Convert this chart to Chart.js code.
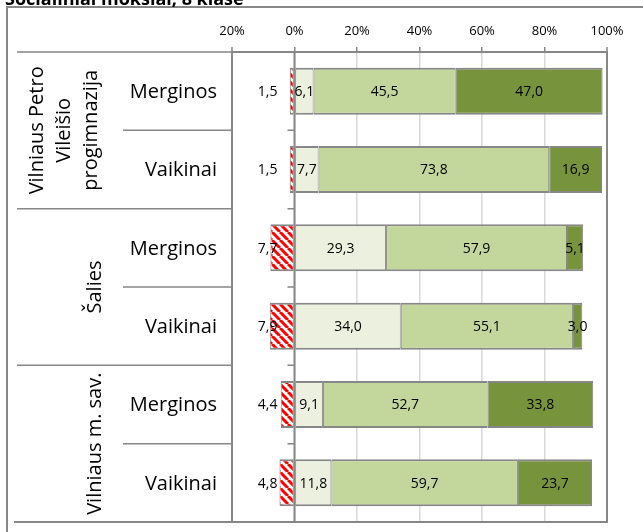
<!DOCTYPE html>
<html><head><meta charset="utf-8">
<script src="https://cdn.jsdelivr.net/npm/chart.js@4.4.1/dist/chart.umd.min.js"></script>
<style>html,body{margin:0;padding:0;background:#fff;overflow:hidden}#wrap{width:643px;height:532px;position:relative}</style>
</head><body><div id="wrap"><canvas id="c" width="643" height="532"></canvas></div>
<script>
// ---- data ----
const chartTitle = 'Socialiniai mokslai, 8 klasė';
const groupLabels = [['Vilniaus Petro', 'Vileišio', 'progimnazija'], ['Šalies'], ['Vilniaus m. sav.']];
const groupSizes = [2, 2, 2];
const categories = ['Merginos', 'Vaikinai', 'Merginos', 'Vaikinai', 'Merginos', 'Vaikinai'];
const seriesNames = ['Nepasiekė patenkinamo', 'Patenkinamas', 'Pagrindinis', 'Aukštesnysis'];
const belowLevel = [1.5, 1.5, 7.7, 7.9, 4.4, 4.8];
const basicLevel = [6.1, 7.7, 29.3, 34.0, 9.1, 11.8];
const mainLevel = [45.5, 73.8, 57.9, 55.1, 52.7, 59.7];
const highLevel = [47.0, 16.9, 5.1, 3.0, 33.8, 23.7];
const xTickValues = [-20, 0, 20, 40, 60, 80, 100];

// ---- styling ----
const FONT = '"Open Sans", "DejaVu Sans", sans-serif';
const GREY = '#878787';
const canvas = document.getElementById('c');
const mainCtx = canvas.getContext('2d');

function hatchPattern() {
  const c = document.createElement('canvas');
  c.width = 8; c.height = 8;
  const g = c.getContext('2d');
  g.fillStyle = '#ffffff'; g.fillRect(0, 0, 8, 8);
  g.strokeStyle = '#ff0000'; g.lineWidth = 3;
  g.beginPath();
  for (const o of [-8, 0, 8]) { g.moveTo(o, 0); g.lineTo(o + 8, 8); }
  g.stroke();
  return mainCtx.createPattern(c, 'repeat');
}

const fmt = v => Math.abs(v).toFixed(1).replace('.', ',');

const framePlugin = {
  id: 'frame',
  beforeDraw(chart) {
    const ctx = chart.ctx;
    ctx.save();
    ctx.fillStyle = '#fff'; ctx.fillRect(0, 0, chart.width, chart.height);
    ctx.strokeStyle = GREY; ctx.lineWidth = 2;
    ctx.beginPath();
    ctx.moveTo(7, 540); ctx.lineTo(7, 7); ctx.lineTo(660, 7);
    ctx.stroke();
    ctx.fillStyle = '#000';
    ctx.font = 'bold 18px ' + FONT;
    ctx.textAlign = 'left'; ctx.textBaseline = 'alphabetic';
    ctx.fillText(chartTitle, 5, 5);
    ctx.restore();
  },
  beforeDatasetsDraw(chart) {
    const ctx = chart.ctx, xs = chart.scales.x, ys = chart.scales.y, a = chart.chartArea;
    const x0 = xs.getPixelForValue(0);
    ctx.save();
    ctx.strokeStyle = GREY; ctx.lineWidth = 2;
    ctx.beginPath(); ctx.moveTo(x0, a.top); ctx.lineTo(x0, a.bottom); ctx.stroke();
    ctx.lineWidth = 1.5;
    ctx.beginPath();
    for (let i = 0; i < categories.length - 1; i++) {
      const yb = (ys.getPixelForValue(i) + ys.getPixelForValue(i + 1)) / 2;
      ctx.moveTo(x0 - 7, yb); ctx.lineTo(x0, yb);
    }
    ctx.stroke();
    ctx.restore();
  },
  afterDraw(chart) {
    const ctx = chart.ctx, ys = chart.scales.y, a = chart.chartArea;
    ctx.save();
    ctx.strokeStyle = GREY;
    ctx.lineWidth = 1.5;
    ctx.beginPath();
    ctx.moveTo(17, a.top); ctx.lineTo(a.left, a.top);
    let idx = 0;
    groupSizes.forEach((n) => {
      for (let k = 0; k < n - 1; k++) {
        const yb = (ys.getPixelForValue(idx + k) + ys.getPixelForValue(idx + k + 1)) / 2;
        ctx.moveTo(123, yb); ctx.lineTo(a.left, yb);
      }
      idx += n;
      if (idx < categories.length) {
        const yb = (ys.getPixelForValue(idx - 1) + ys.getPixelForValue(idx)) / 2;
        ctx.moveTo(17, yb); ctx.lineTo(a.left, yb);
      }
    });
    ctx.stroke();
    ctx.lineWidth = 2;
    ctx.beginPath(); ctx.moveTo(14, a.bottom); ctx.lineTo(a.right + 1, a.bottom); ctx.stroke();
    ctx.fillStyle = '#000';
    ctx.font = '20px ' + FONT;
    ctx.textAlign = 'right'; ctx.textBaseline = 'middle';
    categories.forEach((c, i) => ctx.fillText(c, 217, ys.getPixelForValue(i) + 1));
    idx = 0;
    groupSizes.forEach((n, gi) => {
      const yc = (ys.getPixelForValue(idx) + ys.getPixelForValue(idx + n - 1)) / 2;
      const lines = groupLabels[gi];
      const lastBase = lines.length > 1 ? 97 : 101;
      lines.forEach((t, li) => {
        const bx = lastBase - (lines.length - 1 - li) * 27;
        ctx.save();
        ctx.translate(bx, yc);
        ctx.rotate(-Math.PI / 2);
        ctx.textAlign = 'center'; ctx.textBaseline = 'alphabetic';
        ctx.fillText(t, 0, 0);
        ctx.restore();
      });
      idx += n;
    });
    ctx.restore();
  }
};

const valuePlugin = {
  id: 'vals',
  afterDatasetsDraw(chart) {
    const ctx = chart.ctx, xs = chart.scales.x;
    ctx.save();
    ctx.font = '14px ' + FONT; ctx.fillStyle = '#000';
    ctx.textAlign = 'center'; ctx.textBaseline = 'middle';
    chart.data.datasets.forEach((ds, di) => {
      chart.getDatasetMeta(di).data.forEach((bar, i) => {
        const x = di === 0 ? xs.getPixelForValue(-8.6) : (bar.x + bar.base) / 2;
        ctx.fillText(fmt(ds.data[i]), x, bar.y + 1);
      });
    });
    ctx.restore();
  }
};

const common = { borderColor: GREY, borderWidth: { top: 2, bottom: 2, left: 1, right: 1 }, borderSkipped: false, categoryPercentage: 1, barPercentage: 0.6 };

new Chart(canvas, {
  type: 'bar',
  data: {
    labels: categories,
    datasets: [
      Object.assign({ label: seriesNames[0], data: belowLevel.map(v => -v), backgroundColor: hatchPattern() }, common),
      Object.assign({ label: seriesNames[1], data: basicLevel, backgroundColor: '#ebf1de' }, common),
      Object.assign({ label: seriesNames[2], data: mainLevel, backgroundColor: '#c3d69b' }, common),
      Object.assign({ label: seriesNames[3], data: highLevel, backgroundColor: '#77933c' }, common)
    ]
  },
  options: {
    indexAxis: 'y',
    responsive: false,
    animation: false,
    layout: { padding: { left: 232, right: 36, top: 7, bottom: 10 } },
    plugins: { legend: { display: false }, tooltip: { enabled: false }, title: { display: false } },
    scales: {
      x: {
        position: 'top', stacked: true, min: -20, max: 100,
        afterBuildTicks: s => { s.ticks = xTickValues.map(v => ({ value: v })); },
        afterFit: s => { s.height = 45; },
        ticks: { callback: v => Math.abs(v) + '%', font: { family: FONT, size: 13 }, color: '#000', padding: 8, maxRotation: 0 },
        grid: {
          color: c => (c.tick && (c.tick.value === -20 || c.tick.value === 100)) ? GREY : '#d9d9d9',
          lineWidth: c => (c.tick && (c.tick.value === -20 || c.tick.value === 100)) ? 2 : 1.5,
          tickColor: GREY, tickLength: 5, tickWidth: 1.5
        },
        border: { color: GREY, width: 2 }
      },
      y: { stacked: true, display: false }
    }
  },
  plugins: [framePlugin, valuePlugin]
});
</script></body></html>
